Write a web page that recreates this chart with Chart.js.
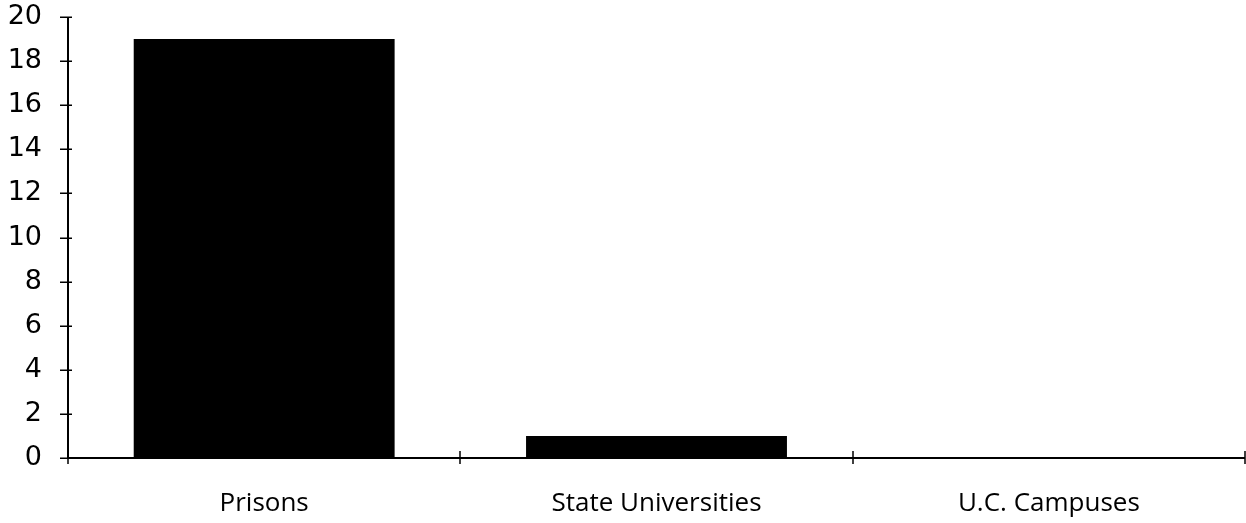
<!DOCTYPE html>
<html>
<head>
<meta charset="utf-8">
<script src="https://cdn.jsdelivr.net/npm/chart.js@4/dist/chart.umd.min.js"></script>
<style>
  html, body { margin: 0; padding: 0; background: #fff; }
  #wrap { width: 1246px; height: 523px; position: relative; }
</style>
</head>
<body>
<div id="wrap"><canvas id="c"></canvas></div>
<script>
const categories = ["Prisons", "State Universities", "U.C. Campuses"];
const values = [19, 1, 0];
const yTickMin = 0;
const yTickMax = 20;
const yTickStep = 2;

const axisPlugin = {
  id: 'axisPlugin',
  afterDatasetsDraw(chart) {
    const ctx = chart.ctx;
    const a = chart.chartArea;
    const xs = chart.scales.x;
    const ys = chart.scales.y;
    const y0 = ys.getPixelForValue(0);
    ctx.save();
    ctx.strokeStyle = '#000';
    ctx.lineCap = 'butt';
    // axes
    ctx.lineWidth = 2;
    ctx.beginPath();
    ctx.moveTo(a.left, ys.getPixelForValue(yTickMax));
    ctx.lineTo(a.left, y0 + 1);
    ctx.moveTo(a.left, y0);
    ctx.lineTo(a.right, y0);
    ctx.stroke();
    // y ticks crossing axis
    ctx.lineWidth = 1.5;
    ctx.beginPath();
    for (let v = yTickMin; v <= yTickMax; v += yTickStep) {
      const py = Math.round(ys.getPixelForValue(v)) + 0.25;
      ctx.moveTo(a.left - 8, py);
      ctx.lineTo(a.left + 4, py);
    }
    // x category boundary ticks crossing axis
    const n = categories.length;
    const step = xs.getPixelForValue(1) - xs.getPixelForValue(0);
    for (let i = 0; i <= n; i++) {
      let px;
      if (i < n) px = xs.getPixelForValue(i) - step / 2;
      else px = xs.getPixelForValue(n - 1) + step / 2;
      px = Math.round(px);
      ctx.moveTo(px, y0 - 7);
      ctx.lineTo(px, y0 + 6);
    }
    ctx.stroke();
    ctx.restore();
  }
};

new Chart(document.getElementById('c'), {
  type: 'bar',
  data: {
    labels: categories,
    datasets: [{
      data: values,
      backgroundColor: '#000',
      borderWidth: 0,
      categoryPercentage: 1.0,
      barPercentage: 0.665
    }]
  },
  options: {
    responsive: true,
    maintainAspectRatio: false,
    animation: false,
    devicePixelRatio: 1,
    layout: { padding: { top: 17, right: 1, left: 0, bottom: 0 } },
    plugins: { legend: { display: false }, tooltip: { enabled: false } },
    scales: {
      x: {
        offset: true,
        grid: { display: false, drawTicks: false },
        border: { display: false },
        ticks: {
          color: '#000',
          font: { family: 'Open Sans', size: 26 },
          padding: 30,
          maxRotation: 0
        },
        afterFit(scale) { scale.height = 65; scale.paddingLeft = 0; scale.paddingRight = 0; }
      },
      y: {
        min: yTickMin,
        max: yTickMax,
        grid: { display: false, drawTicks: false },
        border: { display: false },
        ticks: {
          stepSize: yTickStep,
          color: '#000',
          font: { family: 'DejaVu Sans', size: 27 },
          padding: 26
        },
        afterFit(scale) { scale.width = 68; scale.paddingTop = 0; scale.paddingBottom = 0; }
      }
    }
  },
  plugins: [axisPlugin]
});
</script>
</body>
</html>
